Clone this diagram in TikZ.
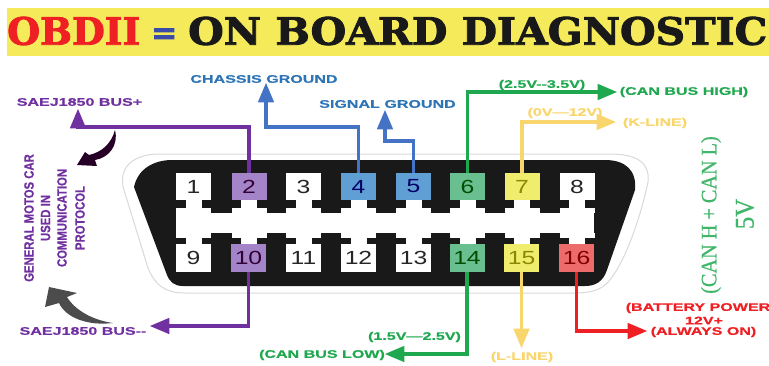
\documentclass[tikz,border=0pt]{standalone}
\usepackage{fontspec}
\setmainfont{Liberation Sans}
\newfontfamily\labfont[FakeStretch=1.46,FakeBold=0.6]{Liberation Sans}
\newfontfamily\pinfont[FakeStretch=1.3]{Liberation Sans}
\newfontfamily\sidefont[FakeStretch=0.84,FakeBold=0.5]{Liberation Sans}
\newfontfamily\slabfont[FakeBold=2.2]{DejaVu Serif}
\newfontfamily\volfont[FakeStretch=0.92,FakeBold=0.6]{Liberation Serif}
\usetikzlibrary{arrows}
\definecolor{busviolet}{HTML}{7030A0}
\definecolor{busblue}{HTML}{4472C4}
\definecolor{lblblue}{HTML}{2E75B6}
\definecolor{busgreen}{HTML}{1FA84F}
\definecolor{busyellow}{HTML}{F9D56E}
\definecolor{busred}{HTML}{EE2024}
\definecolor{bandyellow}{HTML}{F4EA5A}
\definecolor{eqblue}{HTML}{3B4BA8}
\definecolor{pinviolet}{HTML}{A484C8}
\definecolor{pinblue}{HTML}{5F9FD4}
\definecolor{pingreen}{HTML}{69BF90}
\definecolor{pinyellow}{HTML}{EFEC6E}
\definecolor{pinred}{HTML}{EE6B6B}
\tikzset{
  wire/.style={line width=3.6pt,draw=#1,-triangle 45,line join=miter},
  pinbox/.style={draw=none,fill=#1,minimum width=35pt,minimum height=27.5pt,inner sep=0pt,
    font=\pinfont\fontsize{19}{19}\selectfont},
  lab/.style={text=#1,inner sep=0pt,font=\labfont\bfseries\fontsize{11}{11}\selectfont},
  sidelab/.style={text=busviolet,inner sep=0pt,rotate=90,font=\sidefont\bfseries\fontsize{13.5}{14}\selectfont},
  vollab/.style={text=busgreen!85!white,inner sep=0pt,rotate=90,font=\volfont\fontsize{#1}{#1}\selectfont}
}
\newcommand{\titletxt}[3]{\resizebox{#1pt}{#2pt}{\slabfont\bfseries #3}}
\begin{document}
\begin{tikzpicture}[x=1pt, y=-1pt]
  \useasboundingbox (0,0) rectangle (769,365);
  %% title band
  \fill[bandyellow] (7,8) rectangle (769,56);
  \node[anchor=west,inner sep=0pt,text=busred] (obd) at (7,31) {\titletxt{133}{28}{OBDII}};
  \node[anchor=west,inner sep=0pt,text=eqblue] (eqsign) at (151,36) {\titletxt{26}{15}{=}};
  \node[anchor=west,inner sep=0pt,text=black!90] (obdname) at (188,31) {\titletxt{579}{28}{ON BOARD DIAGNOSTIC}};
  %% connector body
  \draw[black!15,line width=1pt] (160,154) -- (610,154) .. controls (640,154) and (650,165) .. (648,182)
    .. controls (640,220) and (625,260) .. (612,277) .. controls (605,288) and (595,293) .. (575,293)
    -- (185,293) .. controls (165,293) and (155,285) .. (148,268)
    -- (124,190) .. controls (118,170) and (130,154) .. (160,154) -- cycle;
  \fill[black!90] (172,160) -- (605,160) .. controls (625,160) and (637,170) .. (635,190)
    -- (607,270) .. controls (603,282) and (595,286) .. (585,286)
    -- (183,286) .. controls (174,286) and (170,282) .. (167,275)
    -- (134,187) .. controls (138,168) and (155,160) .. (172,160) -- cycle;
  %% white slot between the rows
  \fill[white] (176,213) rectangle (594,233);
  \foreach \x in {193.5,249,303.5,358.5,413.5,467.5,522,577} {
    \fill[white] (\x-17.5,208) rectangle ++(35,5);
    \fill[white] (\x-8,198) rectangle ++(16,10);
    \fill[white] (\x-17.5,233) rectangle ++(35,5);
    \fill[white] (\x-8,238) rectangle ++(16,8);
  }
  %% pins
  \foreach \n/\x/\col/\num in {1/193.5/white/black!85,2/249/pinviolet/violet!40!black,3/303.5/white/black!85,
    4/358.5/pinblue/blue!40!black,5/413.5/pinblue/blue!40!black,6/467.5/pingreen/green!30!black,
    7/522/pinyellow/olive,8/577/white/black!85} {
    \node[pinbox=\col,text=\num] (p\n) at (\x,186.5) {\n};
  }
  \foreach \n/\x/\col/\num in {9/193.5/white/black!85,10/248.5/pinviolet/violet!40!black,11/303.5/white/black!85,
    12/358.5/white/black!85,13/413.5/white/black!85,14/467/pingreen/green!30!black,
    15/521.5/pinyellow/olive,16/576.5/pinred/red!50!black} {
    \node[pinbox=\col,text=\num] (p\n) at (\x,258) {\n};
  }
  %% upper wires
  \coordinate (end2) at (78,109);
  \coordinate (end4) at (266,83);
  \coordinate (end5) at (385,110);
  \coordinate (end6) at (617,92);
  \coordinate (end7) at (616,122);
  \draw[wire=busviolet] (p2.north) |- (78,127) -- (end2);
  \draw[wire=busblue] (p4.north) |- (266,127) -- (end4);
  \draw[wire=busblue] (p5.north) |- (385,141) -- (end5);
  \draw[wire=busgreen] (p6.north) |- (end6);
  \draw[wire=busyellow] (p7.north) |- (end7);
  %% lower wires
  \coordinate (end10) at (150,326);
  \coordinate (end14) at (385,354);
  \coordinate (end15) at (521.5,348);
  \coordinate (end16) at (647,331);
  \draw[wire=busviolet] (p10.south) |- (end10);
  \draw[wire=busgreen] (p14.south) |- (end14);
  \draw[wire=busyellow] (p15.south) -- (end15);
  \draw[wire=busred] (p16.south) |- (end16);
  %% labels
  \node[lab=lblblue] (chassis) at (264,79) {CHASSIS GROUND};
  \node[lab=lblblue] (signal) at (387.5,104) {SIGNAL GROUND};
  \node[lab=busviolet] (busplus) at (79.5,102) {SAEJ1850 BUS+};
  \node[lab=busviolet] (busminus) at (83,331) {SAEJ1850 BUS--};
  \node[lab=busgreen] (highv) at (542,85) {(2.5V--3.5V)};
  \node[lab=busgreen] (high) at (684,92) {(CAN BUS HIGH)};
  \node[lab=busyellow] (kv) at (565,113) {(0V—12V)};
  \node[lab=busyellow] (kline) at (655,123) {(K-LINE)};
  \node[lab=busgreen] (lowv) at (414.5,337) {(1.5V—2.5V)};
  \node[lab=busgreen] (low) at (322,355) {(CAN BUS LOW)};
  \node[lab=busyellow] (lline) at (522,357) {(L-LINE)};
  \node[lab=busred] (bat) at (698,308) {(BATTERY POWER};
  \node[lab=busred] (batv) at (704,320.5) {12V+};
  \node[lab=busred] (baton) at (703.5,332) {(ALWAYS ON)};
  %% side texts
  \node[sidelab] (gm1) at (29,218) {GENERAL MOTOS CAR};
  \node[sidelab] (gm2) at (45.5,218) {USED IN};
  \node[sidelab] (gm3) at (62,218) {COMMUNICATION};
  \node[sidelab] (gm4) at (80,218) {PROTOCOL};
  \node[vollab=22] (canhl) at (711,215) {(CAN H + CAN L)};
  \node[vollab=27] (fivev) at (745,214) {5V};
  %% curved pointers
  \fill[black!70!violet] (115,130) .. controls (119,146) and (108,158) .. (95,160)
    -- (97,166) -- (77,165) -- (85,152) -- (89,155) .. controls (102,152) and (111,144) .. (115,130) -- cycle;
  \fill[black!70] (113,323) .. controls (88,326) and (66,318) .. (59,303)
    -- (45,307) -- (49,287) -- (77,293) -- (67,297) .. controls (75,310) and (92,320) .. (113,323) -- cycle;
\end{tikzpicture}
\end{document}
